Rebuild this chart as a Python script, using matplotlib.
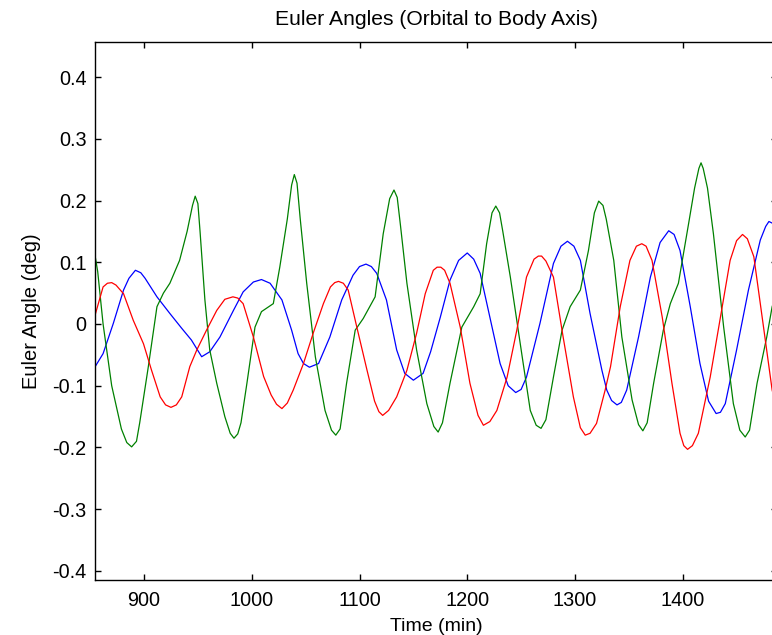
import matplotlib
matplotlib.use("Agg")
import matplotlib.pyplot as plt

# values (time in min, angle in deg)
blue_t = [855, 862, 871.5, 881, 886, 892, 897, 901, 912, 924, 935, 944, 953.5, 961,
          970.5, 983, 992, 1001.5, 1009, 1017, 1028, 1037, 1043, 1048, 1053.5, 1062,
          1072.5, 1083.5, 1094, 1100, 1106, 1111, 1116, 1125, 1134.5, 1142, 1150,
          1159, 1166, 1175, 1184, 1192, 1200, 1206, 1212, 1221, 1230.5, 1238, 1245,
          1250, 1255, 1267.5, 1280, 1287, 1293, 1299, 1305, 1314, 1325, 1329.5, 1334,
          1339, 1343, 1348, 1359, 1370, 1379, 1387, 1392, 1397.5, 1407, 1416, 1424,
          1431, 1435, 1439.5, 1450, 1461, 1472, 1477, 1480, 1487]
blue_v = [-0.068, -0.048, 0.001, 0.055, 0.074, 0.087, 0.083, 0.074, 0.044, 0.017,
          -0.007, -0.026, -0.053, -0.045, -0.021, 0.022, 0.052, 0.068, 0.072, 0.066,
          0.039, -0.010, -0.048, -0.064, -0.070, -0.064, -0.021, 0.039, 0.079, 0.093,
          0.097, 0.093, 0.082, 0.039, -0.042, -0.080, -0.091, -0.080, -0.045, 0.011,
          0.071, 0.103, 0.115, 0.105, 0.082, 0.011, -0.064, -0.100, -0.111, -0.106,
          -0.086, 0.001, 0.098, 0.126, 0.134, 0.126, 0.103, 0.017, -0.075, -0.107,
          -0.124, -0.131, -0.127, -0.107, -0.021, 0.076, 0.132, 0.151, 0.145, 0.119,
          0.028, -0.064, -0.125, -0.145, -0.143, -0.129, -0.042, 0.055, 0.136, 0.158,
          0.166, 0.160]

green_t = [855, 857, 862, 870, 879, 884, 888.5, 893, 896, 904, 912, 918, 924, 933, 940,
           945, 947.5, 950, 952, 956.5, 961, 967.5, 975, 980, 983.5, 987, 990, 995.5,
           1003, 1009, 1020, 1026, 1033, 1037, 1039.5, 1042, 1045, 1051, 1059, 1068,
           1074, 1078, 1082, 1088, 1096, 1103.5, 1114.5, 1122, 1128, 1132, 1135, 1138,
           1144, 1153, 1162.5, 1169, 1173, 1177, 1184, 1195, 1206, 1212, 1218, 1223,
           1226.5, 1230, 1233, 1240, 1251, 1258.5, 1264, 1268.5, 1273, 1280, 1288,
           1295.5, 1305, 1312.5, 1318, 1322, 1326, 1329, 1336, 1343.5, 1353, 1359,
           1363, 1367, 1373, 1382, 1388.5, 1396, 1405.5, 1411, 1415, 1417, 1419, 1423,
           1428.5, 1438, 1447, 1453, 1458, 1462, 1469, 1478, 1483, 1487]
green_v = [0.106, 0.085, 0.000, -0.100, -0.170, -0.192, -0.199, -0.190, -0.160, -0.069,
           0.028, 0.050, 0.066, 0.103, 0.150, 0.192, 0.207, 0.195, 0.150, 0.039, -0.042,
           -0.096, -0.150, -0.177, -0.185, -0.178, -0.160, -0.096, -0.005, 0.020, 0.033,
           0.092, 0.170, 0.225, 0.242, 0.228, 0.170, 0.066, -0.053, -0.140, -0.172,
           -0.180, -0.170, -0.096, -0.010, 0.009, 0.044, 0.146, 0.203, 0.217, 0.205,
           0.160, 0.066, -0.042, -0.129, -0.166, -0.175, -0.160, -0.096, -0.005, 0.028,
           0.049, 0.130, 0.180, 0.191, 0.180, 0.150, 0.076, -0.053, -0.140, -0.164,
           -0.169, -0.155, -0.086, -0.010, 0.028, 0.055, 0.119, 0.180, 0.199, 0.192,
           0.170, 0.103, -0.021, -0.123, -0.163, -0.173, -0.160, -0.096, -0.010, 0.033,
           0.066, 0.163, 0.220, 0.252, 0.261, 0.252, 0.220, 0.146, -0.005, -0.129,
           -0.172, -0.183, -0.172, -0.096, -0.021, 0.028, 0.050]

red_t = [855, 862, 866, 870, 874, 881, 890, 899.5, 907, 915, 920, 925, 930, 935, 942.5,
         949, 958, 967.5, 975, 982.5, 987, 992, 1001.5, 1011, 1018, 1023, 1028, 1033,
         1038.5, 1048, 1057, 1066.5, 1073, 1077, 1080.5, 1085, 1089.5, 1097.5, 1107,
         1114, 1118, 1121.5, 1127, 1134.5, 1144, 1153, 1161, 1168.5, 1172, 1175.5, 1179,
         1184, 1193.5, 1202.5, 1210, 1215, 1221, 1227.5, 1237, 1246, 1255, 1262, 1266,
         1269, 1273, 1280, 1289, 1298.5, 1305, 1309.5, 1314, 1320, 1328, 1333, 1342,
         1351, 1357, 1362, 1366, 1371.5, 1381, 1390, 1397.5, 1401, 1404.5, 1409, 1414.5,
         1425.5, 1435, 1444, 1450, 1455.5, 1460, 1466, 1475, 1483, 1487]
red_v = [0.017, 0.060, 0.066, 0.067, 0.063, 0.049, 0.006, -0.032, -0.075, -0.118,
         -0.131, -0.135, -0.131, -0.118, -0.069, -0.042, -0.010, 0.022, 0.040, 0.044,
         0.042, 0.033, -0.021, -0.085, -0.115, -0.130, -0.137, -0.128, -0.107, -0.064,
         -0.015, 0.033, 0.060, 0.067, 0.069, 0.066, 0.055, -0.005, -0.075, -0.125,
         -0.142, -0.148, -0.140, -0.118, -0.075, -0.015, 0.049, 0.087, 0.092, 0.092,
         0.087, 0.066, -0.005, -0.096, -0.148, -0.164, -0.158, -0.140, -0.086, -0.010,
         0.076, 0.105, 0.110, 0.110, 0.102, 0.076, -0.021, -0.118, -0.168, -0.180,
         -0.177, -0.161, -0.107, -0.069, 0.028, 0.103, 0.126, 0.130, 0.126, 0.103,
         0.011, -0.096, -0.177, -0.197, -0.203, -0.197, -0.177, -0.086, 0.011, 0.103,
         0.135, 0.145, 0.138, 0.109, -0.005, -0.107, -0.135]

x_ticks = [900, 1000, 1100, 1200, 1300, 1400]
y_ticks = [-0.4, -0.3, -0.2, -0.1, 0, 0.1, 0.2, 0.3, 0.4]
y_tick_labels = ["-0.4", "-0.3", "-0.2", "-0.1", "0", "0.1", "0.2", "0.3", "0.4"]


def main():
    plt.rcParams["font.family"] = ["Liberation Sans", "DejaVu Sans"]
    plt.rcParams["axes.unicode_minus"] = False

    fig = plt.figure(figsize=(7.72, 6.35), dpi=100)
    # axes run a little past the right edge, like the cropped original
    ax = fig.add_axes([95 / 772, 55 / 635, 682 / 772, 538 / 635])

    ax.plot(blue_t, blue_v, color=(0, 0, 1), lw=0.9)
    ax.plot(green_t, green_v, color=(0, 0.5, 0), lw=0.9)
    ax.plot(red_t, red_v, color=(1, 0, 0), lw=0.9)

    ax.set_xlim(854.5, 854.5 + 682 / 1.0774)
    ax.set_ylim(-0.4146, 0.4567)
    ax.set_xticks(x_ticks)
    ax.set_yticks(y_ticks, y_tick_labels)
    ax.tick_params(direction="in", top=True, right=True, length=4.5, width=1.0,
                   labelsize=14.3)
    ax.tick_params(axis="x", pad=8)
    ax.tick_params(axis="y", pad=6)
    for s in ax.spines.values():
        s.set_linewidth(1.0)
    # right edge is cropped off in the original
    ax.spines["right"].set_visible(False)

    ax.set_title("Euler Angles (Orbital to Body Axis)", fontsize=15.2, pad=12)
    ax.set_xlabel("Time (min)", fontsize=14, labelpad=6)
    ax.set_ylabel("Euler Angle (deg)", fontsize=14.5, labelpad=8)

    fig.savefig("out.png", dpi=100)


if __name__ == "__main__":
    main()
